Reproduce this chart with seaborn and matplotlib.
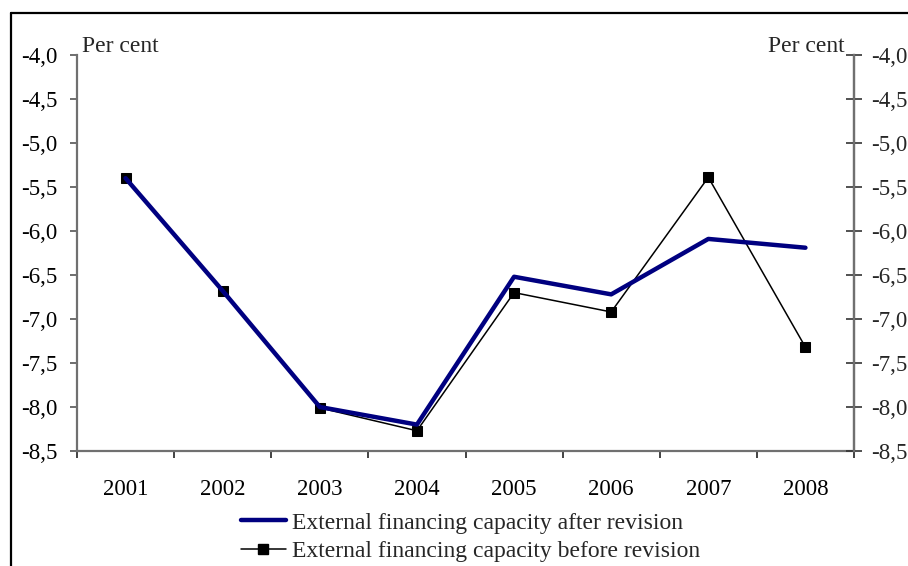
import matplotlib
matplotlib.use("Agg")
import matplotlib.pyplot as plt
from matplotlib.lines import Line2D
import seaborn as sns
import pandas as pd

years = ["2001", "2002", "2003", "2004", "2005", "2006", "2007", "2008"]
after_revision = [-5.40, -6.68, -8.00, -8.20, -6.52, -6.72, -6.09, -6.19]
before_revision = [-5.40, -6.68, -8.01, -8.27, -6.70, -6.92, -5.39, -7.32]
y_ticks = [-4.0, -4.5, -5.0, -5.5, -6.0, -6.5, -7.0, -7.5, -8.0, -8.5]
y_tick_labels = ["-4,0", "-4,5", "-5,0", "-5,5", "-6,0", "-6,5", "-7,0", "-7,5", "-8,0", "-8,5"]
label_after = "External financing capacity after revision"
label_before = "External financing capacity before revision"
unit = "Per cent"

sns.set_style("white")
plt.rcParams["font.family"] = ["Liberation Serif", "DejaVu Serif"]
FS = 16.5
LFS = 17

W, H = 908, 566
fig = plt.figure(figsize=(W / 100, H / 100), dpi=100)
ax = fig.add_axes([77 / W, 1 - 451 / H, (854 - 77) / W, (451 - 55) / H])

df = pd.DataFrame({"year": years, "after": after_revision, "before": before_revision})
sns.lineplot(data=df, x="year", y="before", ax=ax, color="black", lw=1.1,
             marker="s", markersize=7, markeredgecolor="black", label=label_before,
             legend=False, sort=False, zorder=2)
sns.lineplot(data=df, x="year", y="after", ax=ax, color="#000080", lw=3.2,
             label=label_after, legend=False, sort=False, zorder=3)

ax.set_xlim(-0.5, len(years) - 0.5)
ax.set_ylim(-8.5, -4.0)
ax.set_xlabel("")
ax.set_ylabel("")

# x axis: labels at categories, tick marks at boundaries
ax.set_xticks(range(len(years)))
ax.set_xticklabels(years, fontsize=FS)
ax.tick_params(axis="x", which="major", length=0, pad=20, colors="black")
ax.set_xticks([i - 0.5 for i in range(len(years) + 1)], minor=True)
ax.tick_params(axis="x", which="minor", length=5, width=1.2, color="#222222", direction="out", bottom=True)

ax.set_yticks(y_ticks)
ax.set_yticklabels(y_tick_labels, fontsize=FS)
ax.tick_params(axis="y", which="major", length=5, width=1.2, color="#555555", direction="out",
               pad=9, left=True, labelcolor="black")

for s in ["top"]:
    ax.spines[s].set_visible(False)
for s in ["left", "bottom", "right"]:
    ax.spines[s].set_color("#707070")
    ax.spines[s].set_linewidth(1.6)

ax2 = ax.twinx()
ax2.set_ylim(ax.get_ylim())
ax2.set_yticks(y_ticks)
ax2.set_yticklabels(y_tick_labels, fontsize=FS)
ax2.tick_params(axis="y", length=11, width=1.2, color="#333333", direction="inout", pad=7, right=True)
for s in ["top", "left", "bottom"]:
    ax2.spines[s].set_visible(False)
ax2.spines["right"].set_color("#707070")
ax2.spines["right"].set_linewidth(1.6)

fig.text(82 / W, 1 - 52 / H, unit, fontsize=LFS, ha="left", va="baseline")
fig.text(845 / W, 1 - 52 / H, unit, fontsize=LFS, ha="right", va="baseline")

handles = [Line2D([], [], color="#000080", lw=3.2),
           Line2D([], [], color="black", lw=1.1, marker="s", markersize=7)]
fig.legend(handles, [label_after, label_before], loc="upper left",
           bbox_to_anchor=(241 / W, 1 - 512 / H), frameon=False, fontsize=LFS,
           handlelength=1.9, handletextpad=0.25, labelspacing=0.3,
           borderpad=0, borderaxespad=0)

# outer frame (left and top edges visible)
fig.add_artist(Line2D([11 / W, 11 / W], [0, 1 - 13 / H], transform=fig.transFigure, color="black", lw=1.6))
fig.add_artist(Line2D([11 / W, 1], [1 - 13 / H, 1 - 13 / H], transform=fig.transFigure, color="black", lw=1.6))

fig.savefig("out.png", dpi=100)
